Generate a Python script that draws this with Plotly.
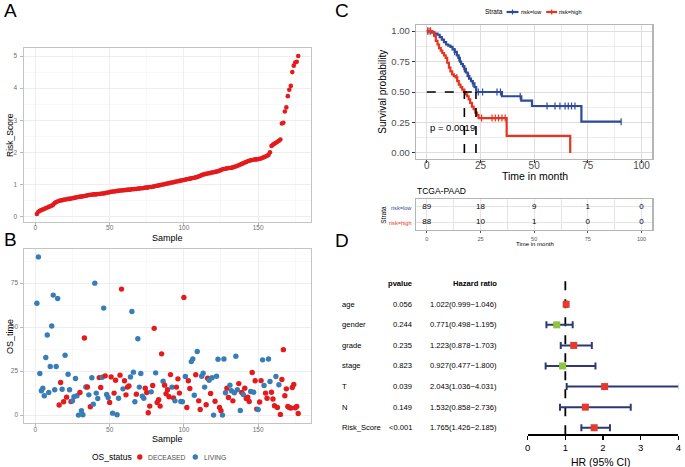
import plotly.graph_objects as go

W, H = 685, 467
def X(p): return p / W
def Y(p): return 1 - p / H

# ---------------- data ----------------
sample = list(range(1, 178))
risk_score = [
    0.08, 0.15, 0.18, 0.20, 0.22, 0.24, 0.26, 0.28, 0.30, 0.32, 0.34, 0.37,
    0.42, 0.45, 0.47, 0.49, 0.50, 0.51, 0.52, 0.53,
    0.54, 0.55, 0.55, 0.56, 0.57, 0.58, 0.59, 0.60, 0.61, 0.62,
    0.62, 0.63, 0.64, 0.65, 0.66, 0.67, 0.68, 0.68, 0.69, 0.69,
    0.69, 0.70, 0.70, 0.71, 0.72, 0.72, 0.73, 0.74, 0.75, 0.76,
    0.77, 0.78, 0.78, 0.79, 0.80, 0.80, 0.81, 0.81, 0.82, 0.82,
    0.83, 0.83, 0.84, 0.84, 0.85, 0.85, 0.86, 0.86, 0.87, 0.87,
    0.88, 0.88, 0.89, 0.90, 0.90, 0.91, 0.92, 0.92, 0.93, 0.94,
    0.95, 0.96, 0.97, 0.98, 0.99, 1.00, 1.01, 1.02, 1.03, 1.04,
    1.05, 1.06, 1.07, 1.08, 1.09, 1.10, 1.11, 1.12, 1.13, 1.14,
    1.15, 1.16, 1.17, 1.18, 1.19, 1.20, 1.21, 1.22, 1.23, 1.25,
    1.27, 1.29, 1.31, 1.32, 1.33, 1.34, 1.35, 1.36, 1.37, 1.38,
    1.39, 1.40, 1.41, 1.43, 1.45, 1.47, 1.48, 1.49, 1.50, 1.51,
    1.51, 1.52, 1.53, 1.55, 1.56, 1.58, 1.60, 1.62, 1.64, 1.66,
    1.68, 1.70, 1.72, 1.74, 1.75, 1.76, 1.77, 1.78, 1.78, 1.79,
    1.80, 1.81, 1.83, 1.85, 1.87, 1.89, 1.92, 2.00, 2.20, 2.24,
    2.27, 2.30, 2.33, 2.36, 2.40,
    2.90, 2.92, 3.27, 3.40, 3.75, 3.95, 4.07, 4.50, 4.70, 4.80, 4.82, 5.00,
]

os_time = [
    63.6, 89.9, 23.6, 13.8, 15.3, 11.0, 32.7, 45.5, 12.8, 27.6,
    50.6, 68.2, 14.4, 27.6, 66.3, 5.7, 18.5, 14.7, 7.6, 34.0,
    10.2, 23.2, 14.4, 7.7, 8.1, 10.4, 20.8, 11.0, 0.0, 12.8,
    2.5, 0.2, 43.8, 16.0, 16.0, 11.5, 4.7, 21.2, 6.2, 75.0,
    12.5, 9.4, 21.3, 15.7, 21.5, 60.8, 22.3, 11.7, 10.0, 7.2,
    21.7, 1.1, 12.5, 19.8, 0.2, 9.6, 22.7, 71.6, 14.9, 19.5,
    11.5, 15.9, 16.6, 21.7, 58.9, 24.4, 7.6, 11.9, 43.4, 15.9,
    23.6, 10.8, 9.6, 15.3, 12.8, 1.3, 5.1, 13.2, 16.8, 49.3,
    24.0, 7.2, 8.7, 5.1, 34.8, 19.3, 17.0, 12.1, 14.4, 10.4,
    23.0, 15.9, 9.8, 8.1, 15.9, 20.6, 12.5, 7.7, 7.6, 66.9,
    21.9, 4.3, 19.5, 15.1, 30.4, 31.9, 11.3, 22.9, 36.1, 8.1,
    3.2, 22.1, 23.8, 15.9, 5.9, 21.0, 19.8, 12.3, 21.2, 0.0,
    7.9, 22.1, 31.7, 4.3, 2.5, 0.0, 31.9, 12.7, 15.3, 10.0,
    17.0, 13.8, 8.1, 12.7, 33.4, 14.4, 17.9, 2.6, 12.8, 11.7,
    15.3, 9.4, 10.2, 7.7, 13.4, 24.2, 13.0, 19.5, 3.4, 3.2,
    7.4, 19.6, 31.4, 16.8, 12.5, 9.6, 31.9, 19.1, 13.0, 9.1,
    5.3, 21.9, 4.3, 17.2, 0.4, 20.2, 37.2, 11.0, 14.9, 4.9,
    4.3, 4.0, 15.7, 17.4, 4.2, 4.9, 0.9,
]
os_status = list(
    "LLLLLLLLLL" "LLLLLDDLDL" "DLLDLLLLLD" "LLDLDLDLLL"
    "LLDDLLDLLD" "DLDDLLDDLD" "DDDLLLLDLL" "LLLDDDDLDD"
    "LDDDDLDDDD" "DLDLDDDLLD" "LDDDLLLDLD" "DLLLDDLDLL"
    "DLLDDLLLDD" "LLDLLLDLDL" "DDDDLDLDDL" "DDLLDDLLDD"
    "DLDLDDDDDD" "DDDDDDD"
)
status_name = {"D": "DECEASED", "L": "LIVING"}
status_color = {"D": "#E41A1C", "L": "#377EB8"}

km_low_time = [0, 2, 3.5, 5, 6, 7, 8, 9, 10, 11, 12, 13, 14, 14.7, 15.4, 16,
               16.8, 17.5, 18.2, 19, 19.8, 20.6, 21.4, 22.2, 23, 35, 44, 49, 72, 90.5]
km_low_surv = [1.0, 0.99, 0.98, 0.97, 0.95, 0.93, 0.91, 0.89, 0.88, 0.87, 0.85,
               0.83, 0.80, 0.78, 0.75, 0.73, 0.71, 0.69, 0.66, 0.63, 0.61, 0.59,
               0.57, 0.54, 0.50, 0.465, 0.43, 0.385, 0.256, 0.256]
km_high_time = [0, 2.6, 3.4, 4.2, 5, 5.7, 6.5, 7.2, 8, 8.8, 9.5, 10.3, 11, 11.8,
                12.6, 13.4, 14.2, 14.9, 15.7, 16.5, 17.5, 18.2, 18.8, 19.5, 20.2,
                21, 21.8, 22.6, 23.4, 24.1, 37.2, 66.8]
km_high_surv = [1.0, 0.99, 0.96, 0.92, 0.89, 0.86, 0.84, 0.82, 0.80, 0.78, 0.74,
                0.70, 0.67, 0.645, 0.63, 0.62, 0.59, 0.56, 0.54, 0.52, 0.50, 0.48,
                0.465, 0.44, 0.41, 0.38, 0.36, 0.33, 0.31, 0.286, 0.14, 0.0]
km_low_censor = [0.5, 1.5, 13, 15, 17.5, 19.5, 21.5, 24, 26, 32.7, 34.3, 43.5,
                 56, 59.7, 62, 64.4, 65.9, 67.4, 69, 90.5]
km_high_censor = [0.5, 1.8, 14, 25.5, 30.4, 31.9, 33.4, 35, 36.5]
median_low, median_high = 22.9, 17.5
p_text = "p = 0.0019"

risk_times = [0, 25, 50, 75, 100]
at_risk_low = [89, 18, 9, 1, 0]
at_risk_high = [88, 10, 1, 0, 0]

forest_vars = ["age", "gender", "grade", "stage", "T", "N", "Risk_Score"]
forest_p = ["0.056", "0.244", "0.235", "0.823", "0.039", "0.149", "<0.001"]
forest_hr = [1.022, 0.771, 1.223, 0.927, 2.043, 1.532, 1.765]
forest_lo = [0.999, 0.498, 0.878, 0.477, 1.036, 0.858, 1.426]
forest_hi = [1.046, 1.195, 1.703, 1.800, 4.031, 2.736, 2.185]

# ---------------- styles ----------------
FONT = "Liberation Sans"
RED = "#E41A1C"
BLUE_KM = "#2E4A9A"
RED_KM = "#E8331F"
NAVY = "#2D3A72"
GRID = "#ebebeb"
GRID_MINOR = "#f6f6f6"
BORDER = "#c4c4c4"

fig = go.Figure()

# Panel A
fig.add_trace(go.Scatter(x=sample, y=risk_score, mode="markers",
                         marker=dict(color=RED, size=4.6), xaxis="x", yaxis="y",
                         showlegend=False, hoverinfo="skip"))
# Panel B
fig.add_trace(go.Scatter(x=sample, y=os_time, mode="markers",
                         marker=dict(color=[status_color[s] for s in os_status], size=5.4),
                         xaxis="x2", yaxis="y2", showlegend=False, hoverinfo="skip"))

# Panel C KM
def step_at(ts, ss, t):
    v = ss[0]
    for ti, si in zip(ts, ss):
        if ti <= t:
            v = si
    return v

for ts, ss, cens, col in [(km_low_time, km_low_surv, km_low_censor, BLUE_KM),
                          (km_high_time, km_high_surv, km_high_censor, RED_KM)]:
    fig.add_trace(go.Scatter(x=ts, y=ss, mode="lines", line=dict(color=col, width=2.2, shape="hv"),
                             xaxis="x3", yaxis="y3", showlegend=False, hoverinfo="skip"))
    fig.add_trace(go.Scatter(x=cens, y=[step_at(ts, ss, c) for c in cens], mode="markers",
                             marker=dict(symbol="line-ns", size=5, line=dict(color=col, width=1.2)),
                             xaxis="x3", yaxis="y3", showlegend=False, hoverinfo="skip"))

# Risk table
for row_y, vals in [(2, at_risk_low), (1, at_risk_high)]:
    fig.add_trace(go.Scatter(x=risk_times, y=[row_y] * len(vals), mode="text",
                             text=[str(v) for v in vals], textfont=dict(size=8, color="black"),
                             xaxis="x4", yaxis="y4", showlegend=False, hoverinfo="skip"))

# Forest
rows = list(range(len(forest_vars), 0, -1))
fig.add_trace(go.Scatter(
    x=forest_hr, y=rows, mode="markers",
    marker=dict(symbol="square", size=7,
                color=["#E8392F" if h > 1 else "#8CC63F" for h in forest_hr]),
    error_x=dict(type="data", symmetric=False,
                 array=[h - m for h, m in zip(forest_hi, forest_hr)],
                 arrayminus=[m - l for m, l in zip(forest_hr, forest_lo)],
                 color=NAVY, thickness=2, width=3.5),
    xaxis="x5", yaxis="y5", showlegend=False, hoverinfo="skip", cliponaxis=False))

# ---------------- axes ----------------
common_ab = dict(showline=True, linecolor=BORDER, linewidth=1, mirror=True,
                 showgrid=True, gridcolor=GRID, gridwidth=0.8, zeroline=False,
                 ticks="outside", ticklen=2.5, tickcolor="#b8b8b8",
                 tickfont=dict(size=6.5, color="#6e6e6e"))

layout = dict(
    width=W, height=H, margin=dict(l=0, r=0, t=0, b=0),
    paper_bgcolor="white", plot_bgcolor="white",
    font=dict(family=FONT, color="black"),
    showlegend=False,
    xaxis=dict(domain=[X(21), X(311)], range=[-7.8, 185.8], tickvals=[0, 50, 100, 150],
               minor=dict(dtick=25, tick0=0, showgrid=True, gridcolor=GRID_MINOR, ticklen=0),
               anchor="y", ticklabelstandoff=-3, **common_ab),
    yaxis=dict(domain=[Y(222), Y(48)], range=[-0.17, 5.25], tickvals=[0, 1, 2, 3, 4, 5],
               minor=dict(dtick=0.5, tick0=0, showgrid=True, gridcolor=GRID_MINOR, ticklen=0),
               anchor="x", ticklabelstandoff=2, **common_ab),
    xaxis2=dict(domain=[X(21), X(311)], range=[-7.8, 185.8], tickvals=[0, 50, 100, 150],
                minor=dict(dtick=25, tick0=0, showgrid=True, gridcolor=GRID_MINOR, ticklen=0),
                anchor="y2", ticklabelstandoff=-2, **common_ab),
    yaxis2=dict(domain=[Y(423), Y(249)], range=[-4.5, 94.4], tickvals=[0, 25, 50, 75],
                minor=dict(dtick=12.5, tick0=0, showgrid=True, gridcolor=GRID_MINOR, ticklen=0),
                anchor="x2", ticklabelstandoff=1, **common_ab),
    xaxis3=dict(domain=[X(416.7), X(655)], range=[-5, 105], tickvals=[0, 25, 50, 75, 100],
                minor=dict(dtick=12.5, tick0=0, showgrid=True, gridcolor="#ececec", ticklen=0),
                showline=True, linecolor="#b5b5b5", linewidth=1.3, mirror=True,
                showgrid=True, gridcolor="#dedede", gridwidth=1, zeroline=False,
                ticks="outside", ticklen=3, tickcolor="#333333", ticklabelstandoff=-6,
                tickfont=dict(size=10, color="#4d4d4d"), anchor="y3"),
    yaxis3=dict(domain=[Y(159), Y(25)], range=[-0.05, 1.05],
                tickvals=[0, 0.25, 0.5, 0.75, 1.0], ticktext=["0.00", "0.25", "0.50", "0.75", "1.00"],
                minor=dict(dtick=0.125, tick0=0, showgrid=True, gridcolor="#ececec", ticklen=0),
                showline=True, linecolor="#b5b5b5", linewidth=1.3, mirror=True,
                showgrid=True, gridcolor="#dedede", gridwidth=1, zeroline=False,
                ticks="outside", ticklen=3, tickcolor="#333333",
                tickfont=dict(size=9.5, color="#4d4d4d"), anchor="x3"),
    xaxis4=dict(domain=[X(416.7), X(655)], range=[-5, 105], tickvals=[0, 25, 50, 75, 100],
                minor=dict(dtick=12.5, tick0=0, showgrid=True, gridcolor="#e4e4e4", ticklen=0),
                showline=True, linecolor="#b5b5b5", linewidth=1.3, mirror=True,
                showgrid=True, gridcolor="#e4e4e4", zeroline=False,
                ticks="outside", ticklen=2, tickcolor="#555555", ticklabelstandoff=1,
                tickfont=dict(size=5.5, color="#555555"), anchor="y4"),
    yaxis4=dict(domain=[Y(230), Y(199)], range=[0.5, 2.5], tickvals=[1, 2], ticktext=["", ""],
                showline=True, linecolor="#b5b5b5", linewidth=1.3, mirror=True,
                showgrid=True, gridcolor="#e4e4e4", zeroline=False, ticks="", anchor="x4"),
    xaxis5=dict(domain=[X(529.3), X(681.3)], range=[0, 4], tickvals=[0, 1, 2, 3, 4],
                showline=True, linecolor="black", linewidth=1.2, showgrid=False, zeroline=False,
                ticks="outside", ticklen=4, tickwidth=1.2, tickcolor="black", ticklabelstandoff=0,
                tickfont=dict(size=9.5, color="black"), anchor="y5"),
    yaxis5=dict(domain=[Y(434.3), Y(276.7)], range=[0.68, 8.34], visible=False, anchor="x5"),
)

ann = []
def txt(x, y, s, size, color="black", xa="center", ya="middle", angle=0, xref="paper", yref="paper"):
    ann.append(dict(x=X(x) if xref == "paper" else x, y=Y(y) if yref == "paper" else y,
                    text=s, showarrow=False, font=dict(size=size, color=color, family=FONT),
                    xanchor=xa, yanchor=ya, textangle=angle, xref=xref, yref=yref, borderpad=0))

# panel letters
txt(8, 10, "A", 19)
txt(8, 239, "B", 19)
txt(342, 11, "C", 19)
txt(342, 240, "D", 19)

# A/B axis titles
txt(7, 135, "Risk_Score", 8.5, angle=-90)
txt(166, 238, "Sample", 9)
txt(7, 336, "OS_time", 9, angle=-90)
txt(166, 438.5, "Sample", 9)

# B legend
txt(131, 457, "OS_status", 8.5, xa="right")
txt(145, 457, "DECEASED", 6.8, color="#4d4d4d", xa="left")
txt(202, 457, "LIVING", 6.8, color="#4d4d4d", xa="left")

# KM titles / legend
txt(383, 92, "Survival probability", 10, angle=-90)
txt(537, 176, "Time in month", 10.5)
txt(485, 12, "Strata", 6.5, xa="left")
txt(522, 12, "risk=low", 5.6, xa="left")
txt(560, 12, "risk=high", 5.6, xa="left")
ann.append(dict(x=12.1, y=0.205, xref="x3", yref="y3", text=p_text, showarrow=False,
                font=dict(size=9.5, color="black", family=FONT), xanchor="center", yanchor="middle"))

# risk table texts
txt(417, 191, "TCGA-PAAD", 8.5, xa="left")
txt(414, 208.3, "risk=low", 5.6, color=BLUE_KM, xa="right")
txt(414, 222.7, "risk=high", 5.6, color=RED_KM, xa="right")
txt(384, 215, "Strata", 6.5, angle=-90)
txt(537, 244, "Time in month", 6)

# forest texts
header_y = len(forest_vars) + 1
ann.append(dict(x=X(415), y=header_y, xref="paper", yref="y5", text="<b>pvalue</b>", showarrow=False,
                font=dict(size=7.6, family=FONT), xanchor="right", yanchor="middle"))
ann.append(dict(x=X(500.7), y=header_y, xref="paper", yref="y5", text="<b>Hazard ratio</b>", showarrow=False,
                font=dict(size=7.6, family=FONT), xanchor="right", yanchor="middle"))
for r, v, p, h, lo, hi in zip(rows, forest_vars, forest_p, forest_hr, forest_lo, forest_hi):
    ann.append(dict(x=X(340), y=r, xref="paper", yref="y5", text=v, showarrow=False,
                    font=dict(size=7.6, family=FONT), xanchor="left", yanchor="middle"))
    ann.append(dict(x=X(415), y=r, xref="paper", yref="y5", text=p, showarrow=False,
                    font=dict(size=7.6, family=FONT), xanchor="right", yanchor="middle"))
    ann.append(dict(x=X(500.7), y=r, xref="paper", yref="y5",
                    text=f"{h:.3f}({lo:.3f}\u2212{hi:.3f})", showarrow=False,
                    font=dict(size=7.6, family=FONT), xanchor="right", yanchor="middle"))
txt(603, 461.5, "HR (95% CI)", 10.5)

layout["annotations"] = ann

shapes = []
# B legend dots
for cx, col in [(138, status_color["D"]), (194, status_color["L"])]:
    shapes.append(dict(type="circle", xref="paper", yref="paper", x0=X(cx - 2.7), x1=X(cx + 2.7),
                       y0=Y(457 + 2.7), y1=Y(457 - 2.7), fillcolor=col, line=dict(width=0)))
# KM legend keys
for x0, x1, col in [(508, 520, BLUE_KM), (548, 559, RED_KM)]:
    shapes.append(dict(type="line", xref="paper", yref="paper", x0=X(x0), x1=X(x1), y0=Y(12), y1=Y(12),
                       line=dict(color=col, width=2.2)))
    xm = (x0 + x1) / 2
    shapes.append(dict(type="line", xref="paper", yref="paper", x0=X(xm), x1=X(xm), y0=Y(9.5), y1=Y(14.5),
                       line=dict(color=col, width=1.2)))
# median dashed lines
dl = dict(color="black", width=1.6, dash="dash")
shapes.append(dict(type="line", xref="x3", yref="y3", x0=0, x1=median_low, y0=0.5, y1=0.5, line=dl))
shapes.append(dict(type="line", xref="x3", yref="y3", x0=median_high, x1=median_high, y0=0, y1=0.5, line=dl))
shapes.append(dict(type="line", xref="x3", yref="y3", x0=median_low, x1=median_low, y0=0, y1=0.5, line=dl))
# forest reference line
shapes.append(dict(type="line", xref="x5", yref="y5", x0=1, x1=1, y0=0.68, y1=8.34, layer="below",
                   line=dict(color="black", width=1.8, dash="dash")))
layout["shapes"] = shapes

fig.update_layout(**layout)
post = (
    "document.documentElement.style.margin='0px';"
    "document.documentElement.style.overflow='hidden';"
    "document.body.style.margin='0px';document.body.style.overflow='hidden';"
    "document.body.style.width='685px';document.body.style.height='467px';"
    "var g=document.querySelector('.plotly-graph-div');"
    "if(g){g.style.overflow='hidden';g.parentNode.style.overflow='hidden';}"
)
fig.write_html("out.html", config={"displayModeBar": False, "staticPlot": True}, post_script=post)
